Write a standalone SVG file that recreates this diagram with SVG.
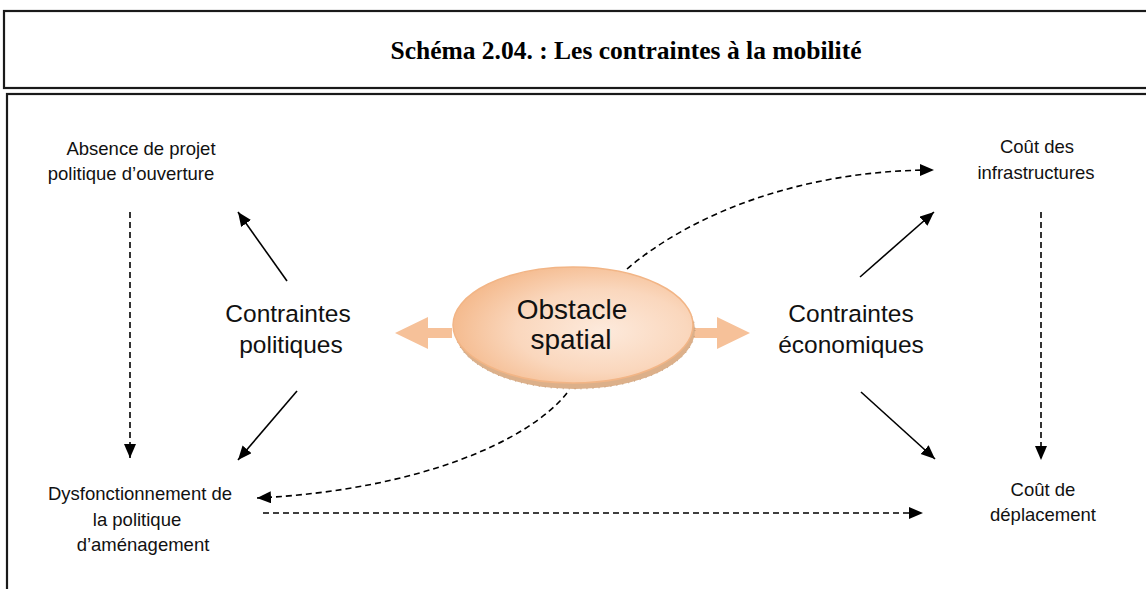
<svg xmlns="http://www.w3.org/2000/svg" width="1146" height="589" viewBox="0 0 1146 589">
<defs>
<style>
.t{font-family:"Liberation Sans",Arial,sans-serif;font-size:18.5px;fill:#111;text-anchor:middle}
.big{font-family:"Liberation Sans",Arial,sans-serif;font-size:24.5px;fill:#111;text-anchor:middle}
.ob{font-family:"Liberation Sans",Arial,sans-serif;font-size:28px;fill:#111;text-anchor:middle}
.title{font-family:"Liberation Serif","Times New Roman",serif;font-size:25.5px;font-weight:bold;fill:#000;text-anchor:middle}
.frame{fill:none;stroke:#1a1a1a;stroke-width:2.2}
.solid{fill:none;stroke:#000;stroke-width:1.6;marker-end:url(#ah)}
.dash{fill:none;stroke:#000;stroke-width:1.6;stroke-dasharray:6 4;marker-end:url(#ah)}
.blk{fill:#f6c199}
</style>
<marker id="ah" markerUnits="userSpaceOnUse" markerWidth="16" markerHeight="14" refX="14" refY="6" orient="auto">
<path d="M0,0 L14,6 L0,12 Z" fill="#000"/>
</marker>
<radialGradient id="eg" cx="0.62" cy="0.55" r="0.65">
<stop offset="0" stop-color="#fdeadc"/>
<stop offset="0.55" stop-color="#fad7bd"/>
<stop offset="1" stop-color="#f4b88a"/>
</radialGradient>
</defs>
<rect width="1146" height="589" fill="#fff"/>
<g id="frames">
<rect class="frame" x="4" y="11" width="1160" height="77"/>
<rect class="frame" x="7" y="94" width="1160" height="520"/>
</g>
<g id="title"><text class="title" x="626" y="59">Schéma 2.04. : Les contraintes à la mobilité</text></g>
<g id="connectors">
<path class="solid" d="M287,281 L238,212"/>
<path class="solid" d="M297,391 L238,460"/>
<path class="solid" d="M860,277 L934,212"/>
<path class="solid" d="M861,392 L935,459"/>
<path class="dash" d="M130,212 L130,458"/>
<path class="dash" d="M1041,212 L1041,460"/>
<path class="dash" d="M627,269 C690,215 800,170 934,170"/>
<path class="dash" d="M567,393 C530,440 420,490 257,498"/>
<path class="dash" d="M263,513 L923,513"/>
</g>
<g id="obstacle">
<polygon class="blk" points="452,328 428,328 428,317 395,333 428,349 428,338 452,338"/>
<polygon class="blk" points="693,328 717,328 717,317 750,333 717,349 717,338 693,338"/>
<ellipse cx="575" cy="330" rx="120" ry="59" fill="#dcb08a" stroke="#b88a64" stroke-width="0.8" stroke-dasharray="1 5"/>
<ellipse cx="573" cy="325" rx="120" ry="58" fill="url(#eg)" stroke="#f2b586" stroke-width="1.5"/>
<text class="ob" x="572" y="319">Obstacle</text>
<text class="ob" x="571" y="349">spatial</text>
</g>
<g id="contraintes-politiques">
<text class="big" x="288" y="322">Contraintes</text>
<text class="big" x="291" y="353">politiques</text>
</g>
<g id="contraintes-economiques">
<text class="big" x="851" y="322">Contraintes</text>
<text class="big" x="851" y="353">économiques</text>
</g>
<g id="absence">
<text class="t" x="141" y="155">Absence de projet</text>
<text class="t" x="131" y="180">politique d’ouverture</text>
</g>
<g id="dysfonctionnement">
<text class="t" x="140" y="500">Dysfonctionnement de</text>
<text class="t" x="137" y="526">la politique</text>
<text class="t" x="143" y="551">d’aménagement</text>
</g>
<g id="cout-infra">
<text class="t" x="1037" y="153">Coût des</text>
<text class="t" x="1036" y="179">infrastructures</text>
</g>
<g id="cout-deplacement">
<text class="t" x="1043" y="496">Coût de</text>
<text class="t" x="1043" y="521">déplacement</text>
</g>
</svg>
